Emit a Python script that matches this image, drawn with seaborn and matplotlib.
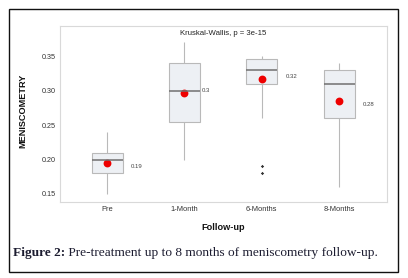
import numpy as np
import pandas as pd
import seaborn as sns
import matplotlib
matplotlib.use("Agg")
import matplotlib.pyplot as plt
from matplotlib.patches import Rectangle

# ---- data ----
groups = ["Pre", "1-Month", "6-Months", "8-Months"]
pre_vals = [0.15, 0.17, 0.18, 0.19, 0.20, 0.20, 0.21, 0.21, 0.24]
m1_vals = [0.20, 0.24, 0.255, 0.29, 0.30, 0.32, 0.34, 0.35, 0.37]
m6_vals = [0.18, 0.19, 0.26, 0.30, 0.31, 0.31, 0.32, 0.32, 0.33, 0.33, 0.33,
           0.34, 0.34, 0.34, 0.345, 0.345, 0.35, 0.35, 0.35, 0.35, 0.35]
m8_vals = [0.16, 0.22, 0.26, 0.29, 0.31, 0.32, 0.33, 0.33, 0.34]
title_text = "Kruskal-Wallis, p = 3e-15"
caption_bold = "Figure 2:"
caption_rest = " Pre-treatment up to 8 months of meniscometry follow-up."

df = pd.DataFrame({
    "group": (["Pre"] * len(pre_vals) + ["1-Month"] * len(m1_vals)
              + ["6-Months"] * len(m6_vals) + ["8-Months"] * len(m8_vals)),
    "value": pre_vals + m1_vals + m6_vals + m8_vals,
})

sns.set_theme(style="white")
plt.rcParams["font.family"] = ["Liberation Sans", "DejaVu Sans"]

fig = plt.figure(figsize=(4.08, 2.78), dpi=100)
ax = fig.add_axes([60 / 408, 1 - 202 / 278, 327 / 408, 176 / 278])

edge = "#b9b9b9"
sns.boxplot(data=df, x="group", y="value", order=groups, ax=ax, width=0.4,
            color="#edf0f4", linewidth=0.8, whis=1.5,
            boxprops=dict(facecolor="#edf0f4", edgecolor=edge),
            whiskerprops=dict(color=edge),
            capprops=dict(color="none"),
            medianprops=dict(color="#707070", linewidth=1.1),
            flierprops=dict(marker="P", markersize=2.0, markerfacecolor="#333333",
                            markeredgecolor="#333333", markeredgewidth=0.2))

sns.pointplot(data=df, x="group", y="value", order=groups, ax=ax,
              estimator="mean", errorbar=None, linestyle="none", marker="o",
              color="#ee0000", markersize=3.6)

means = df.groupby("group")["value"].mean().reindex(groups)
offsets = [0.30, 0.22, 0.31, 0.30]
for i, (g, m) in enumerate(means.items()):
    r = round(float(m), 2)
    ax.text(i + offsets[i], r, f"{r:g}", fontsize=4.3, color="#444444",
            ha="left", va="center")

ax.set_xlim(-0.61, 3.62)
ax.set_ylim(0.1384, 0.3935)
ax.set_yticks([0.15, 0.20, 0.25, 0.30, 0.35])
ax.set_yticklabels(["0.15", "0.20", "0.25", "0.30", "0.35"])
ax.tick_params(axis="y", length=2, width=0.5, color="#999999", pad=1,
               labelsize=5.2, labelcolor="#333333")
ax.tick_params(axis="x", length=0, pad=3, labelsize=5.4, labelcolor="#333333")
for s in ax.spines.values():
    s.set_color("#d9d9d9")
    s.set_linewidth(0.8)

ax.set_xlabel("Follow-up", fontsize=6.6, fontweight="bold", color="#111111")
ax.set_ylabel("MENISCOMETRY", fontsize=6.6, fontweight="bold", color="#111111")
ax.xaxis.set_label_coords(0.5, -0.12)
ax.yaxis.set_label_coords(-0.10, 0.52)
ax.text(0.5, 0.96, title_text, transform=ax.transAxes, ha="center", va="center",
        fontsize=5.6, color="#222222")

# caption
cap_kw = dict(fontsize=9.6, color="#1c1c30", va="center",
              family=["Liberation Serif", "DejaVu Serif"])
t1 = fig.text(13 / 408, 1 - 253 / 278, caption_bold, fontweight="bold", **cap_kw)
fig.canvas.draw()
bb = t1.get_window_extent()
fig.text(bb.x1 / fig.bbox.width, 1 - 253 / 278, caption_rest, **cap_kw)

# figure border
fig.patches.append(Rectangle((9 / 408, 6 / 278), 389 / 408, 263 / 278,
                             transform=fig.transFigure, fill=False,
                             edgecolor="#111111", linewidth=1.0))

fig.savefig("out.png", dpi=100)
